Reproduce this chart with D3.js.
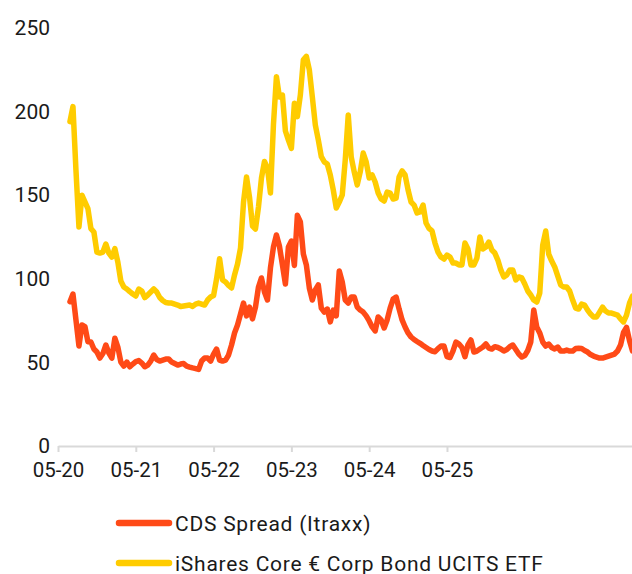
<!DOCTYPE html>
<html>
<head>
<meta charset="utf-8">
<script src="https://cdn.jsdelivr.net/npm/d3@7/dist/d3.min.js"></script>
<style>
  html, body { margin: 0; padding: 0; background: #fff; }
  svg { display: block; }
  text { font-family: Roboto, "Liberation Sans", Arial, sans-serif; fill: #1a1a1a; }
</style>
</head>
<body>
<svg id="chart" width="632" height="574"></svg>
<script>
// Axis labels: one label every 26 fortnightly observations
const tickLabels = ["05-20", "05-21", "05-22", "05-23", "05-24", "05-25"];
const obsPerTick = 26;
const firstObs = 4;
const lastObs = 192;
const yTicks = [0, 50, 100, 150, 200, 250];

const seriesNames = ["CDS Spread (Itraxx)", "iShares Core € Corp Bond UCITS ETF"];

// CDS Spread (Itraxx), bp
const cdsSpread = [
  86.3, 90.9, 75.4, 59.8, 72.4, 71.4, 62.4, 62.2, 58, 56.2,
  52.6, 55.3, 60.4, 55.6, 52.6, 64.5, 59.2, 50.2, 47.8, 50.2,
  47.4, 49, 50.5, 51.1, 49.6, 47.4, 48.4, 50.8, 54.4, 51.7,
  50.8, 51.4, 52, 52, 50.2, 49.3, 48.4, 49, 49.3, 47.8,
  47.2, 46.7, 46.3, 45.8, 50.8, 52.6, 52.6, 50.8, 55, 58,
  51.4, 50.8, 51.4, 54.4, 60.4, 67.6, 72.4, 78.9, 85.5, 77.8,
  83.1, 76, 83.1, 95.1, 100.5, 92.1, 87.3, 106.5, 119, 126.2,
  119.6, 108.3, 96.9, 119, 122.6, 108, 138, 134, 114.8, 108.3,
  94.5, 87.3, 93.3, 96.3, 82.5, 80.1, 81.9, 74.2, 81.3, 77.8,
  104.7, 98.1, 87.3, 85.5, 89.1, 89.1, 83.1, 81.3, 80.1, 77.8,
  74.8, 71.2, 68.8, 77.2, 75.4, 70.6, 75.4, 82.5, 87.9, 89.1,
  81.9, 75.4, 71.2, 67.6, 65.2, 63.7, 62.5, 61.4, 60.1, 58.9,
  57.7, 56.8, 56.4, 58.3, 59.8, 59.8, 53.5, 52.9, 56.8, 62.2,
  61, 58.9, 53.4, 60.4, 63.4, 56.2, 56.8, 58, 59.2, 61,
  58.6, 58, 59.4, 58.9, 58, 56.8, 57.7, 59.4, 60.4, 57.7,
  55, 53.2, 54.1, 57.1, 62.2, 81.3, 71.2, 67.6, 62.2, 59.8,
  61, 58.9, 58, 59.2, 56.8, 56.8, 57.4, 56.8, 56.8, 58.3,
  58.4, 58.3, 57.1, 56.2, 54.7, 53.8, 53.2, 52.6, 52.6, 53.2,
  53.8, 54.4, 55, 56.8, 60.4, 68, 71, 63, 56.8
];

// iShares Core € Corp Bond UCITS ETF, spread in bp
const etfSpread = [
  194, 203, 165, 131, 150, 146, 142, 130, 128, 116,
  115.4, 116, 120.8, 115.4, 113, 118, 110, 98.7, 95.1, 93.9,
  92.3, 90.9, 89.7, 93.9, 92.7, 88.8, 90.3, 92.1, 93.9, 92.1,
  88.8, 87, 85.8, 85.5, 85.5, 84.9, 84.3, 83.4, 83.7, 84,
  84.3, 83.5, 84.9, 85.5, 84.9, 84.3, 87.3, 89.1, 90, 100,
  112, 99.3, 98.1, 96, 94.5, 102.3, 108.9, 118.4, 145.9, 160.9,
  148.9, 131.6, 129.8, 142.9, 160.3, 170.2, 166.3, 151.3, 192, 220.9,
  208.7, 209.9, 188.4, 183, 178, 205, 197, 210, 231, 233,
  224.9, 208.7, 192, 183, 173, 169.9, 168.7, 162.1, 153.1, 142.3,
  145.9, 150.1, 171.1, 198, 172.8, 163.9, 156.1, 163.9, 175.2, 169.9,
  160.3, 162.1, 157.9, 151.3, 147.7, 146.5, 151.9, 151.3, 147.7, 148.3,
  160.9, 164.5, 162.1, 153.1, 145.9, 144.1, 139.4, 140, 144.1, 133.4,
  130.1, 128.6, 121.4, 116, 113, 111.8, 114.2, 113, 109.4, 109.4,
  108.3, 108.3, 121.4, 117.8, 108.3, 108.3, 112.4, 125, 117.8, 119,
  122, 117.2, 115.4, 111.2, 105.3, 101.1, 102.3, 105.3, 105.3, 99.3,
  101.1, 100.5, 96.9, 92.7, 90.3, 87.3, 86.1, 91.5, 120.2, 128.6,
  114.8, 110.6, 107.1, 101.7, 96.3, 95.1, 95.1, 92.7, 87.3, 82.5,
  81.9, 84.9, 84.3, 81.3, 78.9, 77.2, 77.2, 80.1, 83.1, 80.7,
  79.5, 79.5, 78.9, 78.3, 76, 74.2, 78.3, 85.5, 89.7
];

const colors = ["#FF4A17", "#FFCC00"];

const svg = d3.select("#chart");
const plot = { left: 58, right: 632.5, top: 28, bottom: 446 };

const x = d3.scaleLinear().domain([0, lastObs]).range([plot.left, plot.right]);
const y = d3.scaleLinear().domain([0, 250]).range([plot.bottom, plot.top]);

// y-axis labels (no axis line, no gridlines)
const yAxis = d3.axisLeft(y).tickValues(yTicks).tickSize(0).tickPadding(8);
const gy = svg.append("g").attr("transform", `translate(${plot.left},0)`).call(yAxis);
gy.select(".domain").remove();
gy.selectAll("text")
  .attr("font-size", 21)
  .style("font-family", "Roboto, 'Liberation Sans', Arial, sans-serif")
  .attr("fill", "#1a1a1a");

// x-axis
const tickPositions = tickLabels.map((_, i) => i * obsPerTick);
const xAxis = d3.axisBottom(x)
  .tickValues(tickPositions)
  .tickFormat((d, i) => tickLabels[i])
  .tickSize(6)
  .tickSizeOuter(0)
  .tickPadding(10);
const gx = svg.append("g").attr("transform", `translate(0,${plot.bottom})`).call(xAxis);
gx.select(".domain").attr("stroke", "#d9d9d9").attr("stroke-width", 2);
gx.selectAll(".tick line").attr("stroke", "#d9d9d9").attr("stroke-width", 2);
gx.selectAll("text")
  .attr("font-size", 20.5)
  .style("font-family", "Roboto, 'Liberation Sans', Arial, sans-serif")
  .attr("fill", "#1a1a1a");

// series lines
const toPoints = vals => vals.map((v, i) => [firstObs + i, v]);
const line = d3.line().x(d => x(d[0])).y(d => y(d[1]));

const series = [
  { name: seriesNames[1], values: etfSpread, color: colors[1] },
  { name: seriesNames[0], values: cdsSpread, color: colors[0] }
];

svg.append("g").selectAll("path")
  .data(series)
  .join("path")
  .attr("d", d => line(toPoints(d.values)))
  .attr("fill", "none")
  .attr("stroke", d => d.color)
  .attr("stroke-width", 5.5)
  .attr("stroke-linejoin", "round")
  .attr("stroke-linecap", "round");

// legend
const legend = svg.append("g").attr("transform", "translate(116,523)");
const items = legend.selectAll("g")
  .data(seriesNames)
  .join("g")
  .attr("transform", (d, i) => `translate(0,${i * 40})`);
items.append("line")
  .attr("x1", 3).attr("x2", 53)
  .attr("y1", 0).attr("y2", 0)
  .attr("stroke", (d, i) => colors[i])
  .attr("stroke-width", 6.5)
  .attr("stroke-linecap", "round");
items.append("text")
  .attr("x", 59)
  .attr("y", 0)
  .attr("dy", "0.36em")
  .attr("font-size", 21)
  .attr("letter-spacing", 0.75)
  .text(d => d);
</script>
</body>
</html>
